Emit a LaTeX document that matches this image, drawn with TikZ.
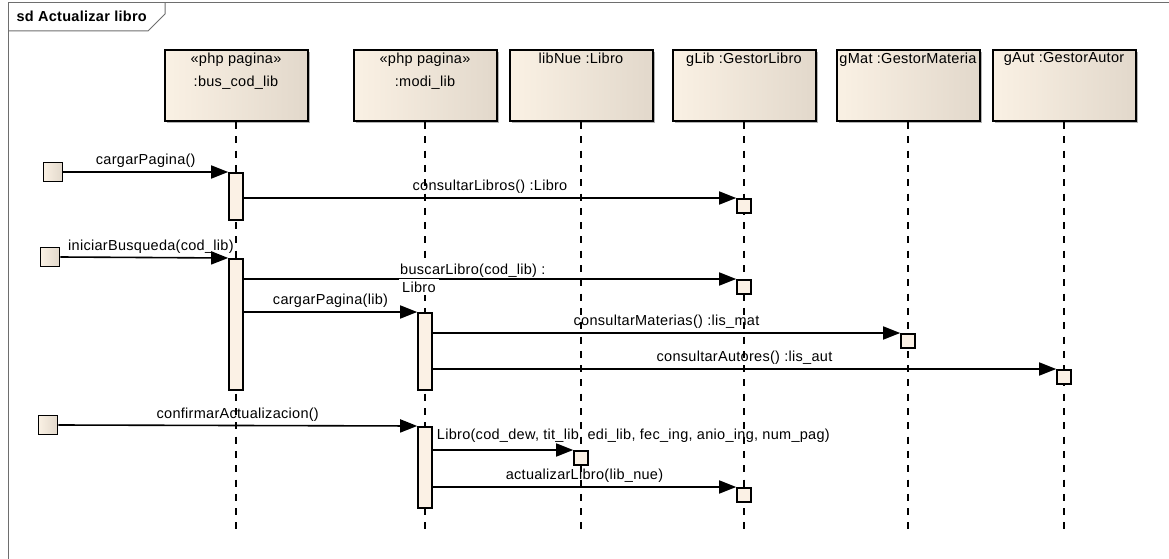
\documentclass[tikz,border=0pt]{standalone}
\usepackage{fontspec}
\setmainfont{Liberation Sans}[LetterSpace=2]
\usetikzlibrary{arrows.meta,shadows}
\definecolor{boxL}{RGB}{250,241,228}
\definecolor{boxR}{RGB}{226,216,203}
\definecolor{actfill}{RGB}{251,241,229}
\definecolor{framegray}{RGB}{110,110,110}

\begin{document}
\begin{tikzpicture}[x=1pt,y=-1pt,>={Triangle[length=17pt,width=13pt]},
  font=\fontsize{14.5}{17}\selectfont]
  \tikzstyle{head}=[draw,line width=2pt,left color=boxL,right color=boxR,
    minimum width=143pt,minimum height=71pt,
    drop shadow={shadow xshift=2pt,shadow yshift=-2pt,opacity=0.6}]
  \tikzstyle{life}=[line width=2pt,dash pattern=on 7pt off 7.3pt]
  \tikzstyle{act}=[draw,line width=1.6pt,fill=actfill,minimum width=14pt,inner sep=0pt,anchor=north]
  \tikzstyle{ret}=[draw,line width=1.6pt,fill=actfill,minimum size=14pt,inner sep=0pt,anchor=north]
  \tikzstyle{ext}=[draw,line width=1.6pt,left color=boxL,right color=boxR,minimum size=19pt,inner sep=0pt]
  \tikzstyle{msg}=[->,line width=1.6pt]
  \tikzstyle{lbl}=[above,midway]

  \useasboundingbox (0,0) rectangle (1169,559);

  % marco
  \draw[framegray,line width=1pt] (8,559) -- (8,3) -- (1169,3);
  \draw[framegray,line width=1pt] (8,31) -- (148,31) -- (165,14) -- (165,3);
  \node[anchor=west,font=\fontsize{14.5}{17}\selectfont\bfseries] (ttl) at (13,16) {sd Actualizar libro};

  % objetos y lineas de vida
  \foreach \n/\x/\t in {bus/236/{«php pagina»\\:bus\_cod\_lib},
      modi/425/{«php pagina»\\:modi\_lib},
      nue/581/{libNue :Libro},
      glib/744/{gLib :GestorLibro},
      gmat/908/{gMat :GestorMateria},
      gaut/1064/{gAut :GestorAutor}} {
    \node[head,label={[anchor=north,align=center,font=\fontsize{14.5}{23}\selectfont]north:{\t}}] (\n) at (\x,85.5) {};
    \draw[life] (\n.south) -- (\n.south |- 0,530);
  }

  % activaciones
  \node[act,minimum height=47pt] (b1) at (236,172) {};
  \node[act,minimum height=131pt] (b2) at (236,258) {};
  \node[act,minimum height=77pt] (b3) at (425,312) {};
  \node[act,minimum height=81pt] (b4) at (425,426) {};

  \node[ret] (r1) at (744,198) {};
  \node[ret] (r2) at (744,279) {};
  \node[ret] (r3) at (908,333) {};
  \node[ret] (r4) at (1064,369) {};
  \node[ret] (r5) at (581,450) {};
  \node[ret] (r6) at (744,487) {};

  \node[ext] (e1) at (53,172) {};
  \node[ext] (e2) at (50,257) {};
  \node[ext] (e3) at (48,425) {};

  % mensajes
  \draw[msg] (e1.east) -- (b1.north west) node[lbl] {cargarPagina()};
  \draw[msg] (b1.east |- r1.north) -- (r1.north west) node[lbl] {consultarLibros() :Libro};
  \draw[msg] (e2.east) -- (b2.north west) node[lbl,pos=0.54] {iniciarBusqueda(cod\_lib)};
  \draw[msg] (b2.east |- r2.north) -- (r2.north west)
    node[pos=0.314,anchor=west,align=left,inner sep=0pt,font=\fontsize{14.5}{18}\selectfont]
    {\setlength\fboxsep{1pt}\colorbox{white}{buscarLibro(cod\_lib) :}\\
     \setlength\fboxsep{3pt}\colorbox{white}{Libro}};
  \draw[msg] (b2.east |- b3.north) -- (b3.north west) node[lbl] {cargarPagina(lib)};
  \draw[msg] (b3.east |- r3.north) -- (r3.north west) node[lbl] {consultarMaterias() :lis\_mat};
  \draw[msg] (b3.east |- r4.north) -- (r4.north west) node[lbl] {consultarAutores() :lis\_aut};
  \draw[msg] (e3.east) -- (b4.north west) node[lbl] {confirmarActualizacion()};
  \draw[msg] (b4.east |- r5.north) -- (r5.north west)
    node[pos=0,anchor=south west,yshift=3pt] {Libro(cod\_dew, tit\_lib, edi\_lib, fec\_ing, anio\_ing, num\_pag)};
  \draw[msg] (b4.east |- r6.north) -- (r6.north west) node[lbl] {actualizarLibro(lib\_nue)};
\end{tikzpicture}
\end{document}
